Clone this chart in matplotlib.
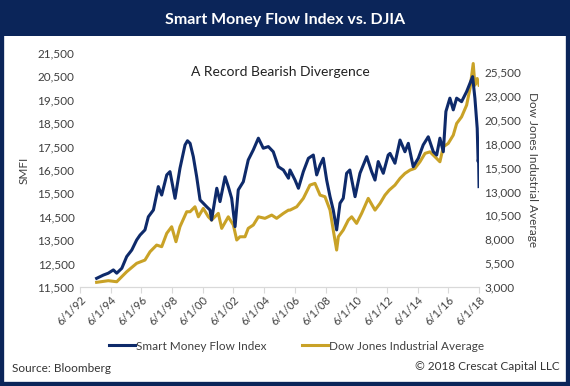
import matplotlib.pyplot as plt
from matplotlib.patches import Rectangle

# decimal years, values
smfi_t = [1993.5, 1993.94, 1994.26, 1994.59, 1994.81, 1995.14, 1995.46, 1995.79, 1996.11, 1996.33,
          1996.65, 1996.87, 1997.2, 1997.52, 1997.74, 1998.07, 1998.28, 1998.61, 1998.93, 1999.26,
          1999.42, 1999.59, 1999.8, 2000.02, 2000.24, 2000.45, 2000.67, 2000.89, 2000.99, 2001.33,
          2001.54, 2001.87, 2002.08, 2002.3, 2002.52, 2002.73, 2003.06, 2003.38, 2003.71, 2004.04,
          2004.36, 2004.69, 2005.01, 2005.34, 2005.67, 2006.0, 2006.1, 2006.43, 2006.65, 2006.97,
          2007.3, 2007.62, 2007.84, 2008.06, 2008.27, 2008.49, 2008.71, 2008.92, 2009.14, 2009.36,
          2009.57, 2009.79, 2010.0, 2010.34, 2010.66, 2011.1, 2011.42, 2011.64, 2011.85, 2012.18,
          2012.5, 2012.62, 2012.94, 2013.27, 2013.59, 2013.81, 2014.13, 2014.46, 2014.78, 2015.11,
          2015.44, 2015.66, 2015.87, 2016.09, 2016.26, 2016.52, 2016.74, 2016.96, 2017.28, 2017.61,
          2017.83, 2018.0, 2018.15, 2018.3, 2018.36, 2018.39, 2018.42]
smfi_v = [11870, 12010, 12090, 12230, 12090, 12300, 12800, 13080, 13510, 13720,
          13940, 14500, 14790, 15790, 15430, 16290, 16430, 15290, 16570, 17570,
          17750, 17640, 17070, 16210, 15220, 15080, 14930, 14790, 14360, 15720,
          15150, 16210, 15790, 15290, 14080, 15650, 16000, 16930, 17360, 17860,
          17430, 17500, 17280, 16640, 16500, 16150, 16500, 16070, 15720, 16430,
          17000, 17140, 16290, 16710, 17000, 16070, 15360, 14790, 13940, 15080,
          15290, 16360, 16500, 15360, 16360, 17070, 16430, 16070, 16860, 16360,
          17140, 17210, 16790, 17780, 17280, 17640, 16640, 17000, 17570, 17920,
          17280, 17140, 17860, 17280, 19000, 19570, 19070, 19570, 19420, 19850,
          20210, 20490, 19570, 18280, 16860, 17000, 15790]

dow_t = [1993.5, 1994.26, 1994.81, 1995.46, 1996.11, 1996.65, 1996.98, 1997.41, 1997.74, 1998.07,
         1998.39, 1998.67, 1998.93, 1999.37, 1999.59, 1999.91, 2000.13, 2000.45, 2000.78, 2000.99,
         2001.43, 2001.65, 2002.08, 2002.41, 2002.63, 2002.84, 2003.17, 2003.38, 2003.71, 2004.04,
         2004.47, 2004.91, 2005.23, 2005.67, 2006.0, 2006.1, 2006.54, 2006.97, 2007.4, 2007.73,
         2008.06, 2008.38, 2008.71, 2008.92, 2009.14, 2009.25, 2009.57, 2009.9, 2010.12, 2010.44,
         2010.77, 2011.2, 2011.64, 2011.97, 2012.29, 2012.57, 2012.94, 2013.27, 2013.59, 2013.92,
         2014.24, 2014.57, 2014.9, 2015.22, 2015.55, 2015.87, 2016.09, 2016.41, 2016.74, 2016.96,
         2017.28, 2017.61, 2017.83, 2018.04, 2018.15, 2018.3, 2018.42]
dow_v = [3490, 3660, 3550, 4600, 5480, 5820, 6690, 7390, 7220, 8620,
         9310, 7740, 9310, 10880, 10880, 11400, 10350, 11230, 10350, 10010,
         10710, 9140, 10350, 9490, 7920, 8260, 8260, 9140, 9490, 10350,
         10190, 10530, 10190, 10710, 11050, 11050, 11400, 12280, 13670, 13850,
         12620, 12450, 11050, 8960, 6870, 8260, 8960, 10010, 10350, 9660,
         10710, 12280, 11050, 11760, 12620, 13150, 13670, 14370, 14890, 15240,
         15420, 16110, 16990, 17150, 16630, 16110, 17680, 18030, 18900, 20120,
         20810, 22040, 23780, 26400, 24130, 24830, 24130]

tick_years = list(range(1992, 2019, 2))
tick_labels = [f"6/1/{y % 100:02d}" for y in tick_years]

navy = '#0e2a6a'
gold = '#c9a227'
plt.rcParams['font.family'] = ['Lato', 'DejaVu Sans']

fig = plt.figure(figsize=(5.7, 3.86), dpi=100)

# frame and header band
fig.patches.append(Rectangle((0, 0), 1, 1, transform=fig.transFigure, fill=False,
                             edgecolor='#0b2559', linewidth=6))
fig.patches.append(Rectangle((0, 1 - 36 / 386), 1, 36 / 386, transform=fig.transFigure,
                             facecolor='#0b2559', edgecolor='none'))
fig.text(0.5, 1 - 20 / 386, 'Smart Money Flow Index vs. DJIA', color='white',
         fontsize=11.5, fontweight='bold', ha='center', va='center')

ax = fig.add_axes([80 / 570, 1 - 287 / 386, 399 / 570, 234 / 386])
ax2 = ax.twinx()

l1, = ax.plot(smfi_t, smfi_v, color=navy, lw=2.2, label='Smart Money Flow Index', zorder=3)
l2, = ax2.plot(dow_t, dow_v, color=gold, lw=2.2, label='Dow Jones Industrial Average')
ax.set_zorder(ax2.get_zorder() + 1)
ax.patch.set_visible(False)

ax.set_xlim(1992 + 5 / 12, 2018 + 5 / 12)
ax.set_ylim(11500, 21500)
ax.set_yticks(range(11500, 21501, 1000))
ax.set_yticklabels([f"{v:,}" for v in range(11500, 21501, 1000)])
ax2.set_ylim(3000, 27500)
ax2.set_yticks(range(3000, 25501, 2500))
ax2.set_yticklabels([f"{v:,}" for v in range(3000, 25501, 2500)])

ax.set_xticks([y + 5 / 12 for y in tick_years])
ax.set_xticklabels(tick_labels, rotation=45, ha='right', rotation_mode='anchor')

for a in (ax, ax2):
    for s in ('top', 'left', 'right'):
        a.spines[s].set_visible(False)
    a.spines['bottom'].set_color('#d9d9d9')
    a.tick_params(axis='y', length=0, labelsize=8.5, colors='#404040', pad=4)
ax.tick_params(axis='x', length=4, color='#d9d9d9', labelsize=8, labelcolor='#404040', pad=1)

ax.set_ylabel('SMFI', fontsize=8.5, color='#404040', labelpad=6)
ax2.set_ylabel('Dow Jones Industrial Average', fontsize=8.5, color='#404040',
               rotation=270, labelpad=12)

fig.text(280 / 570, 1 - 72 / 386, 'A Record Bearish Divergence', fontsize=10,
         color='#222222', ha='center', va='center')

fig.legend([l1, l2], ['Smart Money Flow Index', 'Dow Jones Industrial Average'],
           loc='center', bbox_to_anchor=(0.52, 1 - 346 / 386), ncol=2, frameon=False,
           fontsize=8.5, handlelength=2.2, handletextpad=0.1, columnspacing=3)
for t in fig.legends[0].get_texts():
    t.set_color('#404040')

fig.text(12 / 570, 1 - 368 / 386, 'Source: Bloomberg', fontsize=8.5, color='#333333',
         ha='left', va='center')
fig.text(560 / 570, 1 - 367 / 386, '\u00a9 2018 Crescat Capital LLC', fontsize=8.5,
         color='#333333', ha='right', va='center')

fig.savefig('out.png', dpi=100)
